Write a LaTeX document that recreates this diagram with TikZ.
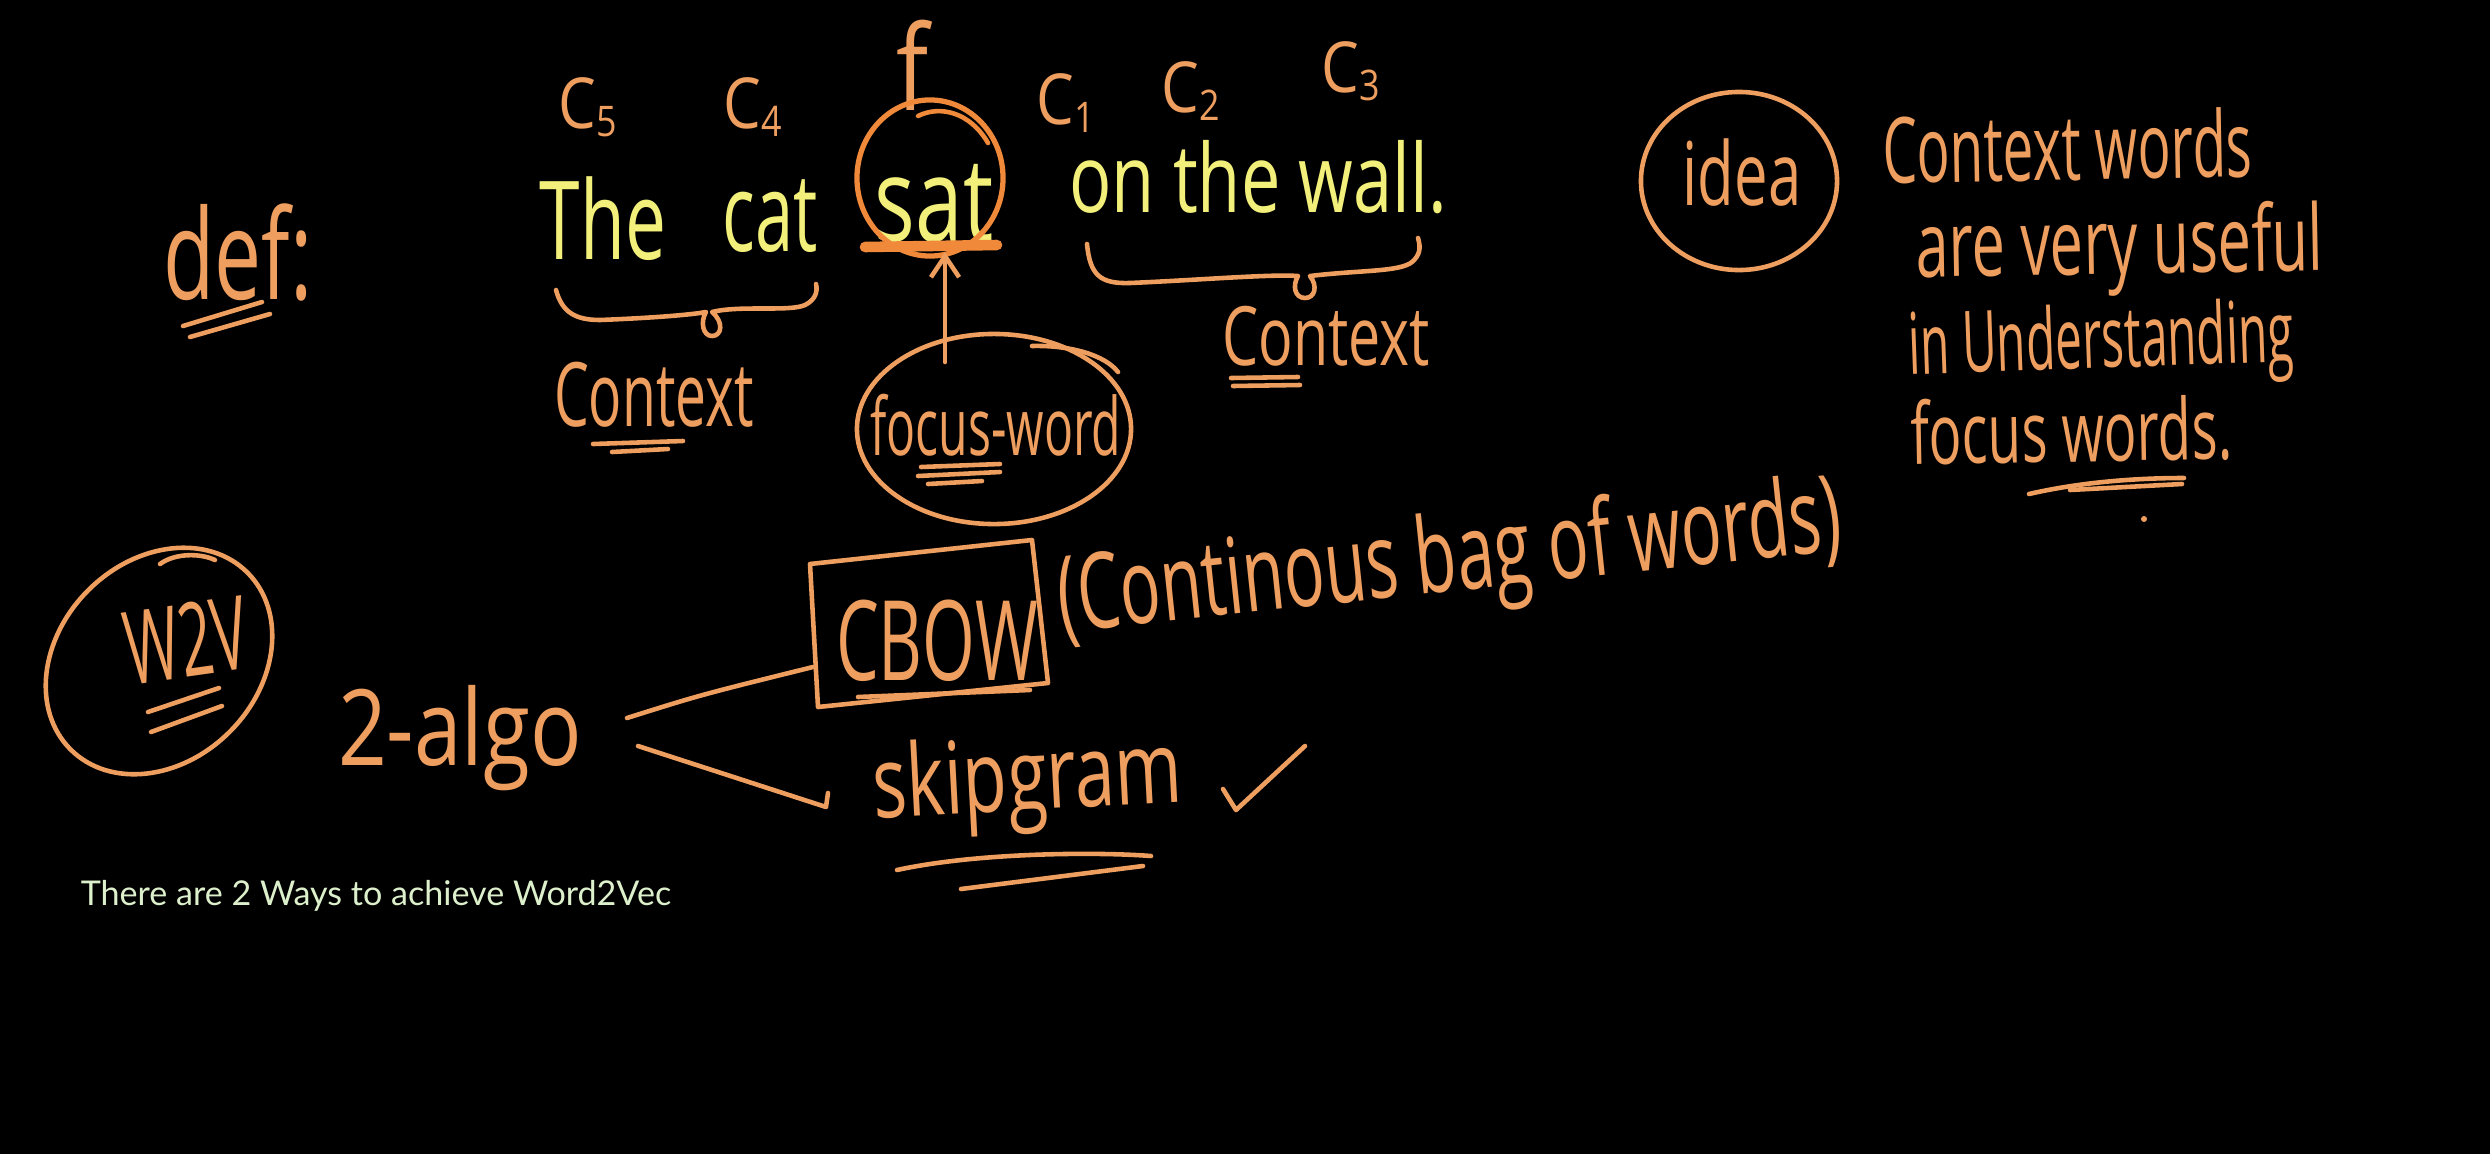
\documentclass[tikz,border=0pt]{standalone}
\usepackage{fontspec}
\setmainfont{Open Sans}
\newfontfamily\capfont{Lato}
\usepackage{graphicx}
\usetikzlibrary{arrows.meta,shapes.geometric}
\definecolor{pen}{HTML}{EE9E5E}
\definecolor{pendeep}{HTML}{F08A3A}
\definecolor{chalk}{HTML}{F2F07A}
\definecolor{capc}{HTML}{DDF0CC}
\newcommand\HW[3]{\fontsize{#1}{#1}\selectfont\scalebox{#2}[1]{#3}}
\newcommand\subd[1]{\raisebox{-0.12em}{\fontsize{12}{12}\selectfont #1}}
\begin{document}
\begin{tikzpicture}[x=0.01cm,y=-0.01cm,
  stroke/.style={draw=pen, line width=1.3pt, line cap=round, line join=round},
  hw/.style={text=pen, inner sep=0pt, anchor=base},
  yw/.style={text=chalk, inner sep=0pt, anchor=base},
  ring/.style={draw=pen, line width=1.3pt, ellipse, inner sep=0pt}]
\fill[black] (0,0) rectangle (2490,1154);
\useasboundingbox (0,0) rectangle (2490,1154);

% def
\node[hw] (def) at (238,299) {\HW{35.6}{0.67}{def:}};
\draw[stroke] (183,326) -- (262,302);
\draw[stroke] (190,337) -- (270,314);

% context labels
\node[hw] (c5) at (588,128) {\HW{20}{0.85}{C\subd{5}}};
\node[hw] (c4) at (753,128) {\HW{20}{0.85}{C\subd{4}}};
\node[hw] (fl) at (913,110) {\HW{33.6}{0.8}{f}};
\node[hw] (c1) at (1066,124) {\HW{20}{0.85}{C\subd{1}}};
\node[hw] (c2) at (1191,112) {\HW{20}{0.85}{C\subd{2}}};
\node[hw] (c3) at (1351,92) {\HW{20}{0.85}{C\subd{3}}};

% sentence
\node[yw] (the) at (603,259) {\HW{31}{0.67}{The}};
\node[yw] (cat) at (770,251) {\HW{31}{0.63}{cat}};
\node[yw] (sat) at (934,241) {\HW{33.3}{0.73}{sat}};
\node[yw] (wall) at (1258,212) {\HW{27}{0.74}{on the wall.}};

% sat circle
\node[draw=pendeep, line width=1.5pt, ellipse, inner sep=0pt, minimum width=1.46cm, minimum height=1.56cm] (satc) at (930,178) {};
\draw[draw=pendeep, line width=1.3pt, line cap=round] (918,116) .. controls (940,105) and (970,112) .. (988,143);
\draw[draw=pendeep, line width=3pt, line cap=round] (865,247) -- (997,245);

% left brace
\draw[stroke] (556,290) .. controls (562,312) and (575,320) .. (600,320)
  .. controls (650,318) and (690,315) .. (706,312)
  .. controls (700,322) and (703,336) .. (712,336)
  .. controls (722,336) and (724,322) .. (712,312)
  .. controls (740,305) and (790,312) .. (805,305)
  .. controls (815,300) and (818,292) .. (816,284);
\node[hw] (ctxL) at (654,426) {\HW{25.3}{0.62}{Context}};
\draw[stroke] (593,444) -- (683,441);
\draw[stroke] (612,452) -- (668,449);

% right brace
\draw[stroke] (1087,244) .. controls (1090,275) and (1100,284) .. (1130,283)
  .. controls (1200,280) and (1270,274) .. (1298,276)
  .. controls (1292,286) and (1295,298) .. (1305,298)
  .. controls (1315,298) and (1318,286) .. (1310,276)
  .. controls (1360,270) and (1400,272) .. (1412,262)
  .. controls (1420,255) and (1421,248) .. (1418,238);
\node[hw] (ctxR) at (1326,365) {\HW{23.3}{0.7}{Context}};
\draw[stroke] (1231,378) -- (1298,377);
\draw[stroke] (1233,386) -- (1300,385);

% focus word
\node[ring, minimum width=2.74cm, minimum height=1.90cm] (focusc) at (994,429) {};
\draw[stroke] (1032,346) .. controls (1070,345) and (1105,355) .. (1118,372);
\node[hw] (focus) at (996,455) {\HW{22.8}{0.6}{focus-word}};
\draw[stroke] (921,467) -- (1000,464);
\draw[stroke] (918,476) -- (1000,472);
\draw[stroke] (928,484) -- (982,481);
\coordinate (fa) at (945,362);
\coordinate (sa) at (945,252);
\draw[stroke, -{Straight Barb[length=6pt,width=8pt]}] (fa) -- (sa);

% idea
\node[ring, minimum width=1.96cm, minimum height=1.78cm] (ideac) at (1739,181) {};
\node[hw] (idea) at (1742,205) {\HW{25}{0.68}{idea}};
\node[hw, rotate=1] (l1) at (2068,180) {\HW{26}{0.6}{Context words}};
\node[hw, rotate=1] (l2) at (2120,274) {\HW{26}{0.65}{are very useful}};
\node[hw, rotate=2] (l3) at (2102,368) {\HW{24.2}{0.56}{in Understanding}};
\node[hw, rotate=1] (l4) at (2072,462) {\HW{24.2}{0.64}{focus words.}};
\draw[stroke] (2029,494) .. controls (2090,480) and (2150,478) .. (2184,478);
\draw[stroke] (2070,490) -- (2182,484);
\fill[pen] (2144,519) circle [radius=3];

% W2V
\node[ring, rotate=45, minimum width=2.5cm, minimum height=2.0cm] (w2vc) at (159,661) {};
\draw[stroke] (160,564) .. controls (175,553) and (200,553) .. (215,560);
\node[text=pen, inner sep=0pt, rotate=8] (w2v) at (186,640) {\HW{29}{0.57}{W2V}};
\draw[stroke] (148,712) -- (219,688);
\draw[stroke] (151,732) -- (222,706);

% 2-algo
\node[hw] (algo) at (460,765) {\HW{30}{0.81}{2-algo}};
\coordinate (a1) at (627,718);
\coordinate (a2) at (638,746);
\coordinate (cbowL) at (813,667);
\coordinate (skipL) at (826,807);
\draw[stroke] (a1) .. controls (700,695) .. (cbowL);
\draw[stroke] (a2) -- (skipL) -- ++(2,-14);

% CBOW
\coordinate (b1) at (810,564);
\coordinate (b2) at (1032,540);
\coordinate (b3) at (1048,683);
\coordinate (b4) at (818,707);
\draw[stroke] (b1) -- (b2) -- (b3) -- (b4) -- cycle;
\node[hw] (cbow) at (937,680) {\HW{31.6}{0.61}{CBOW}};
\draw[stroke] (858,697) -- (1030,690);
\node[hw, rotate=6] (cbowfull) at (1453,591) {\HW{30}{0.64}{(Continous bag of words)}};

% skipgram
\node[hw, rotate=3] (skip) at (1029,810) {\HW{28.5}{0.72}{skipgram}};
\draw[stroke] (1223,789) -- (1236,810) -- (1305,746);
\draw[stroke] (897,870) .. controls (980,852) and (1100,852) .. (1151,856);
\draw[stroke] (961,889) -- (1143,866);

% caption
\node[text=capc, inner sep=0pt] (cap) at (376,896) {\capfont\fontsize{9.7}{12}\selectfont There are 2 Ways to achieve Word2Vec};
\end{tikzpicture}
\end{document}
